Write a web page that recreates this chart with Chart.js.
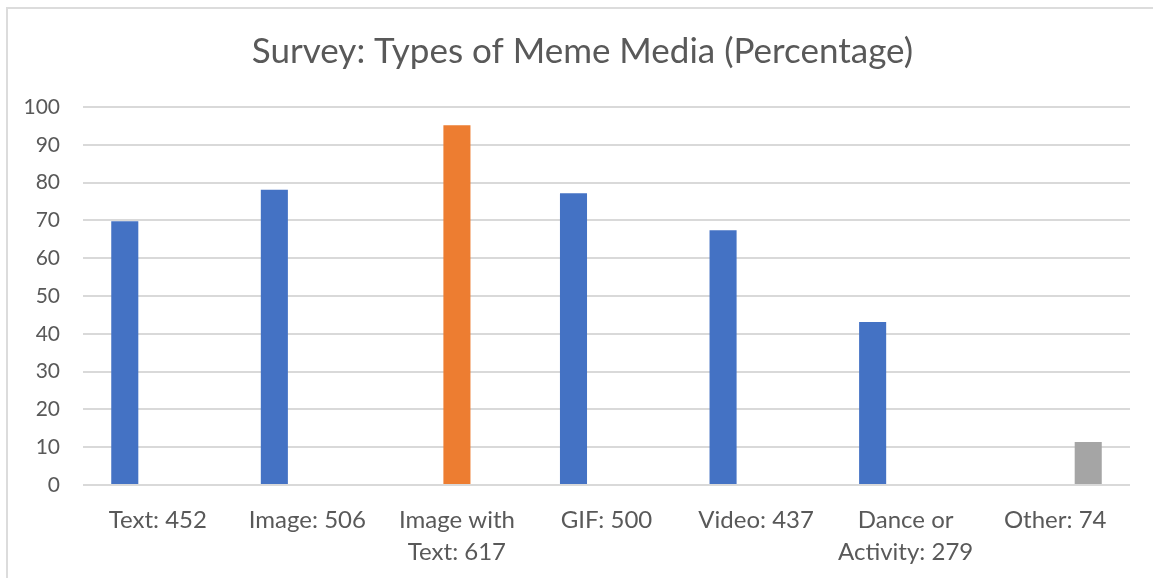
<!DOCTYPE html>
<html>
<head>
<meta charset="utf-8">
<script src="https://cdn.jsdelivr.net/npm/chart.js@4/dist/chart.umd.min.js"></script>
<style>
  html, body { margin: 0; padding: 0; background: #ffffff; }
  #wrap { position: relative; width: 1153px; height: 578px; overflow: hidden; }
  #frame { position: absolute; left: 6px; top: 7px; width: 1200px; height: 620px;
           border-left: 2px solid #dcdcdc; border-top: 2px solid #dcdcdc; }
  #c { position: absolute; left: 0; top: 0; }
</style>
</head>
<body>
<div id="wrap">
  <div id="frame"></div>
  <canvas id="c" width="1153" height="578"></canvas>
</div>
<script>
// Respondent counts per media type, shown as percentages of all respondents
const categories = [
  ["Text: 452"],
  ["Image: 506"],
  ["Image with", "Text: 617"],
  ["GIF: 500"],
  ["Video: 437"],
  ["Dance or", "Activity: 279"],
  ["Other: 74"]
];
const mainSeries   = [69.8, 78.1, null, 77.2, 67.4, 43.1, null];
const topSeries    = [null, null, 95.2, null, null, null, null];
const otherSeries  = [null, null, null, null, null, null, 11.4];
const yTicks = [0, 10, 20, 30, 40, 50, 60, 70, 80, 90, 100];

const textColor = '#595959';
const fontFamily = 'Lato, "Open Sans", sans-serif';

// Centre the title over the whole framed chart rather than the padded box
const titleShift = {
  id: 'titleShift',
  afterLayout(chart) {
    if (chart.titleBlock) chart.titleBlock.left += 15;
  }
};

new Chart(document.getElementById('c'), {
  type: 'bar',
  data: {
    labels: categories,
    datasets: [
      { data: mainSeries,  backgroundColor: '#4472C4' },
      { data: topSeries,   backgroundColor: '#ED7D31' },
      { data: otherSeries, backgroundColor: '#A5A5A5' }
    ]
  },
  plugins: [titleShift],
  options: {
    responsive: false,
    animation: false,
    events: [],
    categoryPercentage: 0.662,
    barPercentage: 0.82,
    layout: { padding: { left: 20, right: 23, top: 0, bottom: 0 } },
    plugins: {
      legend: { display: false },
      tooltip: { enabled: false },
      title: {
        display: true,
        text: 'Survey: Types of Meme Media (Percentage)',
        color: textColor,
        font: { family: fontFamily, size: 35, weight: 'normal', lineHeight: 1.2 },
        padding: { top: 31, bottom: 34 }
      }
    },
    scales: {
      x: {
        afterFit: (scale) => { scale.height = 93; },
        grid: { display: false, drawTicks: false, tickLength: 0 },
        border: { display: false },
        ticks: {
          color: textColor,
          font: { family: fontFamily, size: 24, lineHeight: 1.33 },
          padding: 19,
          maxRotation: 0,
          autoSkip: false
        }
      },
      y: {
        min: 0,
        max: 100,
        afterBuildTicks: (scale) => { scale.ticks = yTicks.map(v => ({ value: v })); },
        afterFit: (scale) => { scale.width = 63; },
        grid: { color: '#d9d9d9', lineWidth: 2, drawTicks: false },
        border: { display: false },
        ticks: {
          color: textColor,
          font: { family: fontFamily, size: 21 },
          padding: 23
        }
      }
    }
  }
});
</script>
</body>
</html>
